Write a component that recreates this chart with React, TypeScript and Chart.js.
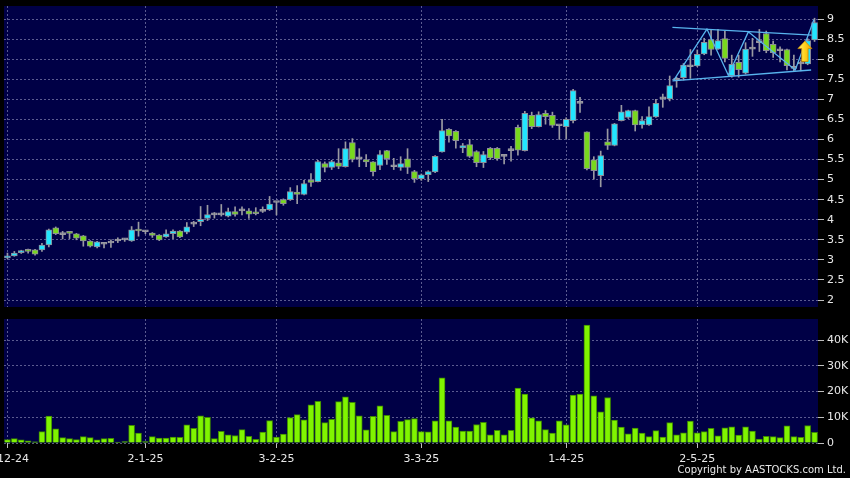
import React, { useEffect, useRef } from 'react';
import { Chart, registerables } from 'chart.js';

Chart.register(...registerables);

// ---------- data ----------
const opens = [
  3.05, 3.10, 3.18, 3.26, 3.25, 3.25, 3.37, 3.80, 3.63, 3.70, 3.65, 3.60, 3.47, 3.32, 3.39, 3.42, 3.47, 3.50, 3.47, 3.76,
  3.70, 3.67, 3.62, 3.57, 3.65, 3.72, 3.69, 3.89, 3.95, 4.03, 4.12, 4.12, 4.09, 4.20, 4.22, 4.22, 4.19, 4.21, 4.25,
  4.43, 4.50, 4.50, 4.69, 4.63, 4.99, 4.95, 5.40, 5.30, 5.42, 5.32, 5.92, 5.52, 5.50, 5.44, 5.35, 5.72, 5.32, 5.30, 5.52,
  5.20, 5.02, 5.12, 5.19, 5.69, 6.25, 6.20, 5.79, 5.87, 5.70, 5.42, 5.78, 5.78, 5.58, 5.72, 6.30, 5.72, 6.60, 6.32, 6.65, 6.60,
  6.34, 6.32, 6.47, 6.90, 6.19, 5.49, 5.10, 5.94, 5.85, 6.47, 6.55, 6.72, 6.36, 6.36, 6.56, 7.01, 7.01, 7.47, 7.54,
  7.81, 7.83, 8.13, 8.49, 8.25, 8.51, 7.59, 7.92, 7.65, 8.25, 8.41, 8.64, 8.37, 8.21, 8.24, 7.77, 7.88, 7.88, 8.48,
];
const closes = [
  3.10, 3.17, 3.22, 3.21, 3.14, 3.37, 3.75, 3.65, 3.63, 3.66, 3.54, 3.47, 3.34, 3.45, 3.39, 3.42, 3.47, 3.50, 3.75, 3.72,
  3.70, 3.61, 3.50, 3.65, 3.72, 3.57, 3.82, 3.89, 4.01, 4.13, 4.12, 4.12, 4.20, 4.13, 4.22, 4.14, 4.15, 4.21, 4.39,
  4.43, 4.40, 4.70, 4.63, 4.90, 4.93, 5.45, 5.30, 5.45, 5.33, 5.77, 5.50, 5.52, 5.44, 5.20, 5.62, 5.52, 5.32, 5.40, 5.30,
  5.02, 5.12, 5.20, 5.58, 6.22, 6.09, 5.97, 5.85, 5.58, 5.42, 5.62, 5.54, 5.52, 5.58, 5.72, 5.73, 6.65, 6.32, 6.62, 6.57, 6.35,
  6.34, 6.50, 7.22, 6.90, 5.27, 5.22, 5.60, 5.85, 6.39, 6.69, 6.72, 6.36, 6.47, 6.57, 6.90, 7.01, 7.34, 7.47, 7.85,
  7.81, 8.12, 8.42, 8.24, 8.46, 8.02, 7.87, 7.74, 8.25, 8.25, 8.41, 8.21, 8.16, 8.21, 7.84, 7.77, 7.88, 8.46, 8.91,
];
const highs = [
  3.17, 3.21, 3.24, 3.27, 3.26, 3.41, 3.77, 3.82, 3.71, 3.71, 3.66, 3.61, 3.48, 3.46, 3.42, 3.50, 3.55, 3.53, 3.83, 3.94,
  3.73, 3.68, 3.63, 3.75, 3.75, 3.73, 3.93, 3.96, 4.33, 4.36, 4.18, 4.38, 4.29, 4.32, 4.32, 4.28, 4.30, 4.32, 4.58,
  4.45, 4.52, 4.80, 4.85, 4.98, 5.15, 5.48, 5.44, 5.48, 5.77, 5.94, 6.02, 5.77, 5.62, 5.45, 5.72, 5.73, 5.53, 5.57, 5.77,
  5.23, 5.14, 5.22, 5.60, 6.50, 6.27, 6.22, 5.90, 6.00, 5.72, 5.70, 5.80, 5.80, 5.63, 5.83, 6.36, 6.70, 6.68, 6.69, 6.72, 6.68,
  6.36, 6.54, 7.25, 7.05, 6.19, 5.57, 5.71, 6.26, 6.40, 6.85, 6.73, 6.73, 6.57, 6.81, 7.00, 7.13, 7.58, 7.55, 7.89,
  8.24, 8.23, 8.52, 8.74, 8.74, 8.69, 8.10, 8.10, 8.41, 8.52, 8.74, 8.70, 8.45, 8.31, 8.25, 8.10, 7.96, 8.51, 9.02,
];
const lows = [
  3.03, 3.09, 3.16, 3.17, 3.12, 3.21, 3.32, 3.63, 3.52, 3.53, 3.50, 3.34, 3.32, 3.30, 3.30, 3.31, 3.43, 3.46, 3.46, 3.59,
  3.65, 3.56, 3.48, 3.56, 3.53, 3.55, 3.65, 3.83, 3.85, 3.98, 4.04, 4.09, 4.07, 4.09, 4.12, 4.03, 4.12, 4.18, 4.23,
  4.12, 4.36, 4.48, 4.40, 4.62, 4.83, 4.94, 5.19, 5.25, 5.27, 5.31, 5.44, 5.32, 5.32, 5.09, 5.25, 5.38, 5.25, 5.23, 5.15,
  4.93, 4.98, 4.95, 5.17, 5.68, 5.93, 5.78, 5.67, 5.55, 5.32, 5.30, 5.50, 5.48, 5.39, 5.46, 5.61, 5.71, 6.27, 6.31, 6.38, 6.30,
  6.00, 6.02, 6.41, 6.67, 5.24, 5.01, 4.82, 5.75, 5.84, 6.46, 6.52, 6.21, 6.28, 6.35, 6.55, 6.80, 6.96, 7.30, 7.48,
  7.52, 7.81, 8.11, 8.10, 8.24, 7.93, 7.55, 7.55, 7.63, 8.07, 8.19, 8.16, 8.04, 7.93, 7.73, 7.70, 7.71, 7.86, 8.44,
];
// volume in thousands of shares
const volumesK = [
  1.3, 1.7, 1.2, 0.8, 0.5, 4.4, 10.5, 5.5, 2.1, 1.7, 1.3, 2.5, 2.1, 1.2, 1.7, 1.8, 0.4, 0.6, 6.9, 3.9,
  0.6, 2.5, 1.9, 1.9, 2.3, 2.2, 7.1, 5.7, 10.6, 10.0, 1.7, 4.5, 3.2, 2.9, 5.2, 2.6, 1.4, 4.2, 8.7,
  2.3, 3.5, 9.9, 11.0, 9.0, 14.8, 16.2, 7.9, 9.2, 16.1, 17.9, 15.8, 10.6, 5.1, 10.4, 14.4, 10.8, 4.4, 8.4, 9.1,
  9.5, 4.4, 4.3, 8.6, 25.3, 8.6, 6.2, 4.6, 4.6, 7.2, 8.0, 3.2, 4.9, 3.2, 4.9, 21.3, 19.0, 9.8, 8.6, 5.2, 3.9,
  8.6, 7.1, 18.6, 19.0, 45.8, 18.3, 12.1, 17.7, 8.9, 6.2, 3.6, 5.8, 3.9, 2.5, 4.8, 2.3, 7.9, 3.2, 4.0,
  8.5, 4.0, 4.4, 5.7, 2.8, 5.9, 6.3, 3.1, 6.3, 4.6, 1.5, 2.6, 2.5, 2.1, 6.7, 2.5, 2.2, 6.8, 4.1,
];

const xTickIndex = [0, 20, 39, 60, 81, 100];
const xTickText = ['2-12-24', '2-1-25', '3-2-25', '3-3-25', '1-4-25', '2-5-25'];
const priceTicks = [2, 2.5, 3, 3.5, 4, 4.5, 5, 5.5, 6, 6.5, 7, 7.5, 8, 8.5, 9];
const priceMin = 1.826;
const priceMax = 9.324;
const volumeTicks = [0, 10, 20, 30, 40];
const volumeMax = 48.2;

// drawn annotations (index, price)
const channelUpper = [[96.4, 8.79], [116.6, 8.6]];
const channelLower = [[96.4, 7.46], [116.5, 7.73]];
const zigzag = [[96.6, 7.48], [101.4, 8.75], [104.5, 7.6], [107.4, 8.68], [114.2, 7.73], [116.9, 8.98]];
const arrowMark = { index: 115.6, tip: 8.45, base: 7.94 };

// ---------- styles ----------
const NAVY = '#000046';
const GRID = 'rgba(130,130,175,0.7)';
const UP = '#22e6ff';
const DOWN = '#78d81e';
const FLAT = '#9a9aa2';
const EDGE = '#8c8c98';
const VOL = '#80f400';
const VOL_EDGE = '#3d8a00';
const TXT = '#e8e8e8';
const FONT = 'DejaVu Sans';

const labels = opens.map((_, i) => String(i));

const plotBg = {
  id: 'plotBg',
  beforeDraw(chart: any) {
    const { ctx, chartArea: a } = chart;
    ctx.save();
    ctx.fillStyle = NAVY;
    ctx.fillRect(a.left, a.top, a.right - a.left, a.bottom - a.top);
    ctx.restore();
  },
};

const annotations = {
  id: 'annotations',
  afterDatasetsDraw(chart: any) {
    const { ctx } = chart;
    const xs = chart.scales.x;
    const ys = chart.scales.y;
    const px = (p: number[]) => [xs.getPixelForValue(p[0]), ys.getPixelForValue(p[1])];
    ctx.save();
    ctx.strokeStyle = '#58b4ee';
    ctx.lineWidth = 1.3;
    [channelUpper, channelLower, zigzag].forEach((line) => {
      ctx.beginPath();
      line.forEach((p, k) => {
        const [x, y] = px(p);
        if (k === 0) ctx.moveTo(x, y);
        else ctx.lineTo(x, y);
      });
      ctx.stroke();
    });
    // arrow
    const cx = xs.getPixelForValue(arrowMark.index);
    const tip = ys.getPixelForValue(arrowMark.tip);
    const base = ys.getPixelForValue(arrowMark.base);
    const headY = tip + 7.5;
    const g = ctx.createLinearGradient(cx - 7, 0, cx + 7, 0);
    g.addColorStop(0, '#fff27a');
    g.addColorStop(0.5, '#ffd21c');
    g.addColorStop(1, '#f0a000');
    ctx.beginPath();
    ctx.moveTo(cx, tip);
    ctx.lineTo(cx + 7, headY);
    ctx.lineTo(cx + 3.2, headY);
    ctx.lineTo(cx + 3.2, base);
    ctx.lineTo(cx - 3.2, base);
    ctx.lineTo(cx - 3.2, headY);
    ctx.lineTo(cx - 7, headY);
    ctx.closePath();
    ctx.fillStyle = g;
    ctx.fill();
    ctx.strokeStyle = '#c88a00';
    ctx.lineWidth = 0.8;
    ctx.stroke();
    ctx.restore();
  },
};

function xAxis(showLabels: boolean, height: number) {
  return {
    type: 'category',
    offset: true,
    grid: {
      color: GRID,
      offset: false,
      drawTicks: showLabels,
      tickLength: 5,
      tickColor: '#bdbdbd',
      tickBorderDash: [],
    },
    border: { display: false, dash: [2, 2] },
    ticks: {
      display: showLabels,
      autoSkip: false,
      maxRotation: 0,
      color: TXT,
      padding: 5,
      font: { family: FONT, size: 11 },
      callback: (v: number) => xTickText[xTickIndex.indexOf(v)] ?? '',
    },
    afterBuildTicks: (a: any) => {
      a.ticks = xTickIndex.map((v) => ({ value: v }));
    },
    afterFit: (a: any) => {
      a.height = height;
      a.paddingLeft = 0;
      a.paddingRight = 0;
    },
  };
}

function yAxis(min: number, max: number, ticks: number[], fmt: (v: number) => string) {
  return {
    position: 'right',
    min,
    max,
    grid: { color: GRID, tickLength: 6, tickColor: '#bdbdbd', tickBorderDash: [] },
    border: { display: false, dash: [2, 2] },
    ticks: {
      color: TXT,
      padding: 3,
      font: { family: FONT, size: 11 },
      callback: (v: number) => fmt(v),
    },
    afterBuildTicks: (a: any) => {
      a.ticks = ticks.map((v) => ({ value: v }));
    },
    afterFit: (a: any) => {
      a.width = 32;
      a.paddingTop = 0;
      a.paddingBottom = 0;
    },
  };
}

export default function App() {
  const priceRef = useRef<HTMLCanvasElement>(null);
  const volRef = useRef<HTMLCanvasElement>(null);

  useEffect(() => {
    const bodyColors = opens.map((o, i) => (closes[i] > o ? UP : closes[i] < o ? DOWN : FLAT));
    const bodyEdges = opens.map((o, i) => (closes[i] === o ? FLAT : EDGE));

    const price = new Chart(priceRef.current as HTMLCanvasElement, {
      type: 'bar',
      data: {
        labels,
        datasets: [
          {
            label: 'body',
            data: opens.map((o, i) => [o, closes[i]]),
            backgroundColor: bodyColors,
            borderColor: bodyEdges,
            borderWidth: 1,
            borderSkipped: false,
            barThickness: 6,
            minBarLength: 2,
            grouped: false,
            order: 0,
          } as any,
          {
            label: 'wick',
            data: lows.map((l, i) => [l, highs[i]]),
            backgroundColor: FLAT,
            borderWidth: 0,
            barThickness: 1,
            grouped: false,
            order: 1,
          } as any,
        ],
      },
      options: {
        responsive: false,
        maintainAspectRatio: false,
        animation: false,
        layout: { padding: { left: 4, top: 6, right: 0, bottom: 0 } },
        plugins: { legend: { display: false }, tooltip: { enabled: false } },
        scales: {
          x: xAxis(false, 3) as any,
          y: yAxis(priceMin, priceMax, priceTicks, (v) => String(v)) as any,
        },
      },
      plugins: [plotBg, annotations],
    });

    const volume = new Chart(volRef.current as HTMLCanvasElement, {
      type: 'bar',
      data: {
        labels,
        datasets: [
          {
            label: 'volume',
            data: volumesK,
            backgroundColor: VOL,
            borderColor: VOL_EDGE,
            borderWidth: 1,
            borderSkipped: 'start',
            barThickness: 6,
          } as any,
        ],
      },
      options: {
        responsive: false,
        maintainAspectRatio: false,
        animation: false,
        layout: { padding: { left: 4, top: 9, right: 0, bottom: 0 } },
        plugins: { legend: { display: false }, tooltip: { enabled: false } },
        scales: {
          x: xAxis(true, 35) as any,
          y: yAxis(0, volumeMax, volumeTicks, (v) => (v === 0 ? '0' : `${v}K`)) as any,
        },
      },
      plugins: [plotBg],
    });

    return () => {
      price.destroy();
      volume.destroy();
    };
  }, []);

  return (
    <div
      style={{
        position: 'absolute',
        left: 0,
        top: 0,
        width: 850,
        height: 478,
        background: '#000',
        overflow: 'hidden',
      }}
    >
      <canvas
        ref={priceRef}
        width={850}
        height={310}
        style={{ position: 'absolute', left: 0, top: 0, width: 850, height: 310 }}
      />
      <canvas
        ref={volRef}
        width={850}
        height={168}
        style={{ position: 'absolute', left: 0, top: 310, width: 850, height: 168 }}
      />
      <div
        style={{
          position: 'absolute',
          right: 4,
          top: 464,
          fontFamily: FONT,
          fontSize: 10,
          lineHeight: '12px',
          color: TXT,
          whiteSpace: 'nowrap',
        }}
      >
        Copyright by AASTOCKS.com Ltd.
      </div>
    </div>
  );
}
